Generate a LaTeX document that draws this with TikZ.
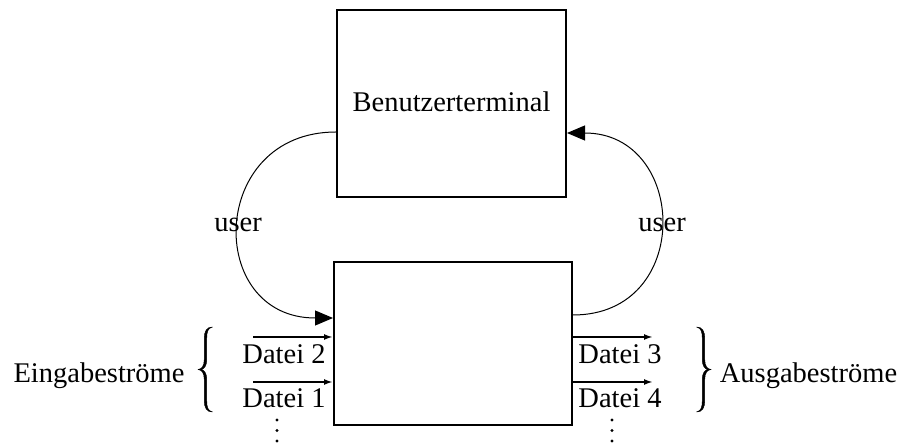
\documentclass[tikz,border=0pt]{standalone}
\usepackage{fontspec}
\setmainfont{Liberation Serif}
\usetikzlibrary{arrows.meta}
\begin{document}
\begin{tikzpicture}[x=1pt,y=-1pt,
  font=\fontsize{28.5}{34}\selectfont,
  boxstyle/.style={draw,line width=2pt,inner sep=0pt},
  arcline/.style={line width=1pt,-{Triangle[length=18pt,width=15pt]}},
  dataline/.style={line width=2pt,-{Latex[length=9pt,width=6pt]}},
  lbl/.style={anchor=base,inner sep=0pt},
  dot/.style={fill,circle,inner sep=0pt,minimum size=3.4pt},
  curlybrace/.pic={
    \filldraw[line width=0.5pt,line join=round]
      (0,-42.5) .. controls (-6,-42.5) and (-8.2,-38) .. (-8.2,-31)
      -- (-8.2,-10) .. controls (-8.2,-3) and (-11,-0.3) .. (-14.5,0)
      .. controls (-11,0.3) and (-8.2,3) .. (-8.2,10)
      -- (-8.2,31) .. controls (-8.2,38) and (-6,42.5) .. (0,42.5)
      .. controls (-5,41.5) and (-5.8,37) .. (-5.8,31)
      -- (-5.8,10) .. controls (-5.8,4) and (-8,1) .. (-11,0)
      .. controls (-8,-1) and (-5.8,-4) .. (-5.8,-10)
      -- (-5.8,-31) .. controls (-5.8,-37) and (-5,-41.5) .. (0,-42.5) -- cycle;
  }]
\useasboundingbox (0,0) rectangle (911,443);
% boxes
\node[boxstyle,minimum width=229pt,minimum height=187pt] (term) at (451.5,103.5) {};
\node[lbl] (termlabel) at (451.5,112) {Benutzerterminal};
\node[boxstyle,minimum width=238pt,minimum height=163pt] (proc) at (453,343.5) {};
% user arcs
\coordinate (a1) at ([yshift=-28.5pt]term.west);
\coordinate (a2) at ([yshift=25.5pt]proc.west);
\draw[arcline] (a1) .. controls +(-128,0) and +(-128,0) .. (a2);
\coordinate (b1) at ([yshift=28.5pt]proc.east);
\coordinate (b2) at ([yshift=-29.5pt]term.east);
\draw[arcline] (b1) .. controls +(121,0) and +(121,0) .. (b2);
\node[lbl] (userl) at (238,232) {user};
\node[lbl] (userr) at (662,232) {user};
% input streams
\coordinate (i2) at (253,337);
\coordinate (i1) at (253,382);
\draw[dataline] (i2) -- (i2 -| proc.west);
\draw[dataline] (i1) -- (i1 -| proc.west);
\node[lbl] (d2) at (284,364) {Datei 2};
\node[lbl] (d1) at (284,407.5) {Datei 1};
% output streams
\coordinate (o3) at (653,337);
\coordinate (o4) at (653,382);
\draw[dataline] (o3 -| proc.east) -- (o3);
\draw[dataline] (o4 -| proc.east) -- (o4);
\node[lbl] (d3) at (620,364) {Datei 3};
\node[lbl] (d4) at (620,407.5) {Datei 4};
% braces
\pic at (212.5,369.5) {curlybrace};
\pic[xscale=-1] at (696.5,369.5) {curlybrace};
\node[lbl] (ein) at (99,383) {Eingabeströme};
\node[lbl] (aus) at (808.5,383) {Ausgabeströme};
% dots
\foreach \y [count=\k] in {420,430.5,441} {
  \node[dot] (ldot\k) at (277,\y) {};
  \node[dot] (rdot\k) at (612,\y) {};
}
\end{tikzpicture}
\end{document}
